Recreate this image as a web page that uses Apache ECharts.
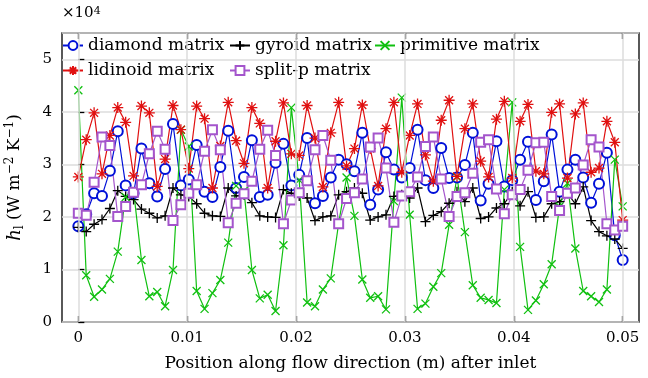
<!DOCTYPE html>
<html>
<head>
<meta charset="utf-8">
<script src="https://cdn.jsdelivr.net/npm/echarts@6/dist/echarts.min.js"></script>
<style>
  html, body { margin: 0; padding: 0; background: #fff; }
  #chart { width: 648px; height: 378px; }
</style>
</head>
<body>
<div id="chart"></div>
<script>
// heat transfer coefficient along the channel, values in units of 1e4 W m^-2 K^-1
var xStep = 0.05 / 69;   // 70 stations from inlet to 0.05 m

var diamond = [1.82, 2.05, 2.45, 2.40, 2.88, 3.63, 2.60, 2.45, 3.30, 2.64,
  2.39, 2.91, 3.77, 2.60, 2.71, 3.37, 2.48, 2.38, 2.95, 3.64,
  2.55, 2.76, 3.46, 2.38, 2.42, 3.03, 3.39, 2.60, 2.80, 3.50,
  2.26, 2.40, 2.75, 3.09, 3.00, 2.87, 3.60, 2.23, 2.52, 3.23,
  2.90, 2.75, 2.93, 3.66, 2.70, 2.55, 3.31, 2.74, 2.75, 2.99,
  3.60, 2.31, 2.63, 3.44, 2.58, 2.70, 3.09, 3.43, 2.32, 2.68,
  3.57, 2.48, 2.90, 3.09, 2.75, 2.27, 2.63, 3.22, 1.65, 1.18];

var gyroid = [1.80, 1.72, 1.86, 1.95, 2.16, 2.50, 2.39, 2.33, 2.15, 2.07,
  1.98, 2.02, 2.55, 2.42, 2.39, 2.25, 2.07, 2.02, 2.01, 2.55,
  2.40, 2.42, 2.27, 2.02, 2.00, 1.99, 2.52, 2.45, 2.40, 2.36,
  1.93, 2.00, 2.02, 2.42, 2.48, 2.55, 2.45, 1.94, 2.00, 2.04,
  2.39, 2.42, 2.36, 2.55, 1.91, 2.03, 2.10, 2.26, 2.48, 2.29,
  2.55, 1.97, 2.00, 2.17, 2.25, 2.48, 2.21, 2.48, 1.99, 2.00,
  2.25, 2.29, 2.45, 2.25, 2.57, 1.93, 1.72, 1.64, 1.58, 1.40];

var primitive = [4.41, 0.89, 0.48, 0.62, 0.82, 1.34, 2.38, 2.50, 1.18, 0.49,
  0.57, 0.30, 0.99, 3.66, 3.34, 0.59, 0.25, 0.55, 0.80, 1.51,
  2.59, 2.50, 0.99, 0.45, 0.52, 0.21, 1.46, 4.08, 2.70, 0.37,
  0.30, 0.62, 0.83, 1.88, 2.75, 2.02, 0.81, 0.46, 0.49, 0.24,
  2.30, 4.27, 2.04, 0.25, 0.35, 0.67, 0.93, 1.85, 2.76, 1.71,
  0.70, 0.46, 0.42, 0.36, 2.52, 4.18, 1.43, 0.23, 0.41, 0.72,
  1.10, 2.20, 2.64, 1.40, 0.59, 0.49, 0.38, 0.62, 3.09, 2.20];

var lidinoid = [2.76, 3.47, 3.98, 2.82, 3.55, 4.08, 3.80, 2.78, 4.11, 3.98,
  2.58, 3.10, 4.12, 3.66, 2.92, 4.11, 3.87, 2.55, 3.35, 4.18,
  3.45, 3.02, 4.08, 3.78, 2.55, 3.44, 4.17, 3.20, 3.17, 4.12,
  3.50, 2.57, 3.60, 4.18, 2.97, 3.30, 4.13, 3.30, 2.59, 3.68,
  4.18, 2.85, 3.55, 4.15, 3.18, 2.68, 3.84, 4.22, 2.77, 3.68,
  4.15, 3.06, 2.76, 3.86, 4.20, 2.74, 3.82, 4.14, 2.87, 2.82,
  3.99, 4.15, 2.74, 3.96, 4.17, 2.85, 2.93, 3.82, 3.42, 1.94];

var splitP = [2.07, 2.03, 2.66, 3.52, 3.36, 2.01, 2.20, 2.47, 2.61, 3.20,
  3.63, 3.29, 1.93, 2.23, 2.45, 2.61, 3.25, 3.66, 3.28, 1.89,
  2.26, 2.44, 2.68, 3.29, 3.65, 3.17, 1.87, 2.32, 2.46, 2.69,
  3.28, 3.55, 3.08, 1.87, 2.35, 2.46, 2.72, 3.33, 3.50, 2.93,
  1.90, 2.40, 2.48, 2.76, 3.34, 3.52, 2.72, 2.01, 2.39, 2.46,
  2.83, 3.42, 3.47, 2.53, 2.06, 2.42, 2.52, 2.89, 3.41, 3.42,
  2.39, 2.12, 2.45, 2.55, 2.99, 3.47, 3.33, 1.87, 1.75, 1.82];

var xTicks = [0, 0.01, 0.02, 0.03, 0.04, 0.05];

var FONT = 'DejaVu Serif';

function pairs(vals) {
  return vals.map(function (v, i) { return [i * xStep, v]; });
}

var PLUS = 'path://M0,-1L0,1M-1,0L1,0';
var CROSS = 'path://M-1,-1L1,1M-1,1L1,-1';
var STAR = 'path://M0,-1L0,1M-1,0L1,0M-0.72,-0.72L0.72,0.72M-0.72,0.72L0.72,-0.72';

function mkSeries(name, vals, color, symbol, size) {
  return {
    name: name,
    type: 'line',
    data: pairs(vals),
    symbol: symbol,
    symbolSize: size,
    showAllSymbol: true,
    animation: false,
    z: 3,
    lineStyle: { color: color, width: 1.2 },
    itemStyle: { color: color, borderColor: color, borderWidth: 1.3 }
  };
}

function ticks(extra) {
  var t = { show: true, inside: true, length: 6, lineStyle: { color: '#000', width: 1.3 } };
  return Object.assign(t, extra || {});
}

var myChart = echarts.init(document.getElementById('chart'), null, { renderer: 'canvas' });

var gridLines = xTicks.map(function (v) { return { xAxis: v }; });

var legendPos = [
  ['diamond matrix', 62, 37],
  ['gyroid matrix', 229, 37],
  ['primitive matrix', 374, 37],
  ['lidinoid matrix', 62, 62],
  ['split-p matrix', 229, 62]
];

var options = {
  backgroundColor: '#fff',
  animation: false,
  textStyle: { fontFamily: FONT },
  grid: {
    left: 62, right: 9, top: 33, bottom: 56,
    outerBoundsMode: 'none', containLabel: false,
    show: true, borderColor: '#000', borderWidth: 1.3, backgroundColor: 'transparent'
  },
  legend: legendPos.map(function (p) {
    return {
      data: [p[0]],
      left: p[1],
      top: p[2],
      itemWidth: 20,
      itemHeight: 11,
      itemGap: 0,
      padding: 0,
      selectedMode: false,
      textStyle: { fontFamily: FONT, fontSize: 17, color: '#000' }
    };
  }),
  graphic: [{
    type: 'text',
    left: 62,
    top: 6,
    style: {
      text: '×10{sup|4}',
      font: '15px "DejaVu Serif"',
      fill: '#000',
      rich: { sup: { fontSize: 11, verticalAlign: 'top', lineHeight: 12, fontFamily: FONT } }
    }
  }],
  xAxis: [{
    type: 'value',
    min: -0.0015,
    max: 0.0515,
    name: 'Position along flow direction (m) after inlet',
    nameLocation: 'middle',
    nameGap: 33,
    nameTextStyle: { fontFamily: FONT, fontSize: 17, color: '#000' },
    axisLine: { show: false },
    axisTick: ticks({ customValues: xTicks }),
    axisLabel: { show: true, customValues: xTicks, margin: 9, fontFamily: FONT, fontSize: 15, color: '#000' },
    splitLine: { show: false }
  }, {
    type: 'value',
    position: 'top',
    min: -0.0015,
    max: 0.0515,
    axisLine: { show: false },
    axisTick: ticks({ customValues: xTicks }),
    axisLabel: { show: false },
    splitLine: { show: false }
  }],
  yAxis: [{
    type: 'value',
    min: 0,
    max: 5.5,
    interval: 1,
    name: '{i|h}{sub|l} (W m{sup|−2} K{sup|−1})',
    nameLocation: 'middle',
    nameRotate: 90,
    nameGap: 36,
    nameTextStyle: {
      fontFamily: FONT, fontSize: 17, color: '#000', lineHeight: 22,
      rich: {
        i: { fontStyle: 'italic', fontSize: 18, fontFamily: FONT, lineHeight: 22 },
        sub: { fontSize: 12, verticalAlign: 'bottom', fontFamily: FONT, lineHeight: 22 },
        sup: { fontSize: 12, verticalAlign: 'top', fontFamily: FONT, lineHeight: 22 }
      }
    },
    axisLine: { show: false },
    axisTick: ticks(),
    axisLabel: { show: true, showMaxLabel: false, margin: 10, fontFamily: FONT, fontSize: 15, color: '#000' },
    splitLine: { show: true, lineStyle: { color: '#dcdcdc', width: 1.5 } }
  }],
  series: [
    {
      name: 'grid',
      type: 'line',
      data: [],
      z: 1,
      silent: true,
      markLine: {
        silent: true,
        symbol: ['none', 'none'],
        label: { show: false },
        animation: false,
        lineStyle: { color: '#dcdcdc', width: 1.5, type: 'solid' },
        data: gridLines
      }
    },
    mkSeries('diamond matrix', diamond, '#0010d8', 'emptyCircle', 10),
    mkSeries('gyroid matrix', gyroid, '#000000', PLUS, 10),
    mkSeries('primitive matrix', primitive, '#10c010', CROSS, 8),
    mkSeries('lidinoid matrix', lidinoid, '#e01010', STAR, 11),
    mkSeries('split-p matrix', splitP, '#a455cc', 'emptyRect', 9)
  ]
};

myChart.setOption(options);
</script>
</body>
</html>
